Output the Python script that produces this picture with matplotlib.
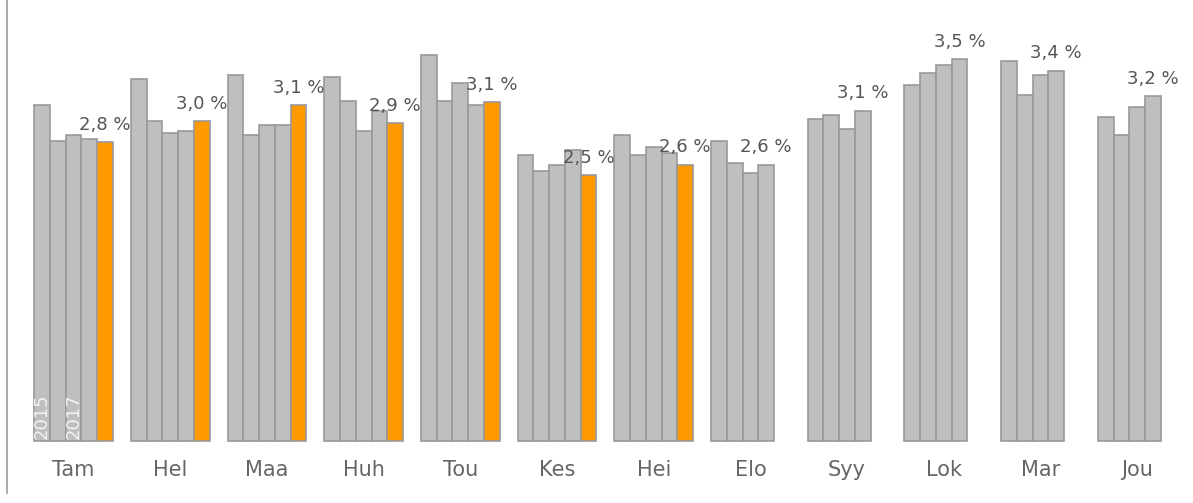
import matplotlib
matplotlib.use("Agg")
import matplotlib.pyplot as plt

# Month labels (Finnish abbreviations)
months = ["Tam", "Hel", "Maa", "Huh", "Tou", "Kes", "Hei", "Elo", "Syy", "Lok", "Mar", "Jou"]

# Monthly values per year (%), 2019 only until July
y2015 = [3.11, 3.35, 3.39, 3.37, 3.57, 2.65, 2.83, 2.78, 2.98, 3.30, 3.52, 3.00]
y2016 = [2.78, 2.96, 2.83, 3.15, 3.15, 2.50, 2.65, 2.57, 3.02, 3.41, 3.20, 2.83]
y2017 = [2.83, 2.85, 2.93, 2.87, 3.31, 2.56, 2.72, 2.48, 2.89, 3.48, 3.39, 3.09]
y2018 = [2.80, 2.87, 2.93, 3.06, 3.11, 2.69, 2.67, 2.56, 3.06, 3.54, 3.43, 3.19]
y2019 = [2.77, 2.96, 3.11, 2.94, 3.14, 2.46, 2.56]

years = ["2015", "2016", "2017", "2018", "2019"]
series = [y2015, y2016, y2017, y2018, y2019]

grey = "#bfbfbf"
edge = "#999999"
orange = "#ff9900"
bar_w = 0.163

fig = plt.figure(figsize=(11.93, 5.03), dpi=100)
ax = fig.add_axes([7.5 / 1193, 10 / 503, 1 - 7.5 / 1193, 493 / 503])

# Draw the bars year by year
for j, vals in enumerate(series):
    xs = [i + (j - 2) * bar_w for i in range(len(vals))]
    color = orange if years[j] == "2019" else grey
    ax.bar(xs, vals, width=bar_w, color=color, edgecolor=edge, linewidth=1.2, zorder=2)

# Value label above the latest bar of each month
for i in range(len(months)):
    j = 4 if i < len(y2019) else 3
    v = series[j][i]
    txt = f"{v:.1f}".replace(".", ",") + " %"
    ax.annotate(txt, (i + (j - 2) * bar_w, v), xytext=(0, 8.7), textcoords="offset points",
                ha="center", va="baseline", fontsize=13, color="#555555", zorder=3)

# Month labels under the groups
for i, m in enumerate(months):
    ax.text(i, -0.27, m, ha="center", va="center", fontsize=15, color="#666666")

# Year hints inside the first group
for j in [0, 2]:
    ax.text((j - 2) * bar_w, 0.02, years[j], rotation=90, ha="center", va="bottom",
            fontsize=13, color="#f2f2f2", zorder=3)

ax.set_xlim(-0.683, 11.577)
ax.set_ylim(-0.481, 4.083)
ax.set_xticks([])
ax.set_yticks([])
for side in ["top", "right", "bottom"]:
    ax.spines[side].set_visible(False)
ax.spines["left"].set_color(edge)
ax.spines["left"].set_linewidth(1.2)

fig.savefig("out.png", dpi=100)
